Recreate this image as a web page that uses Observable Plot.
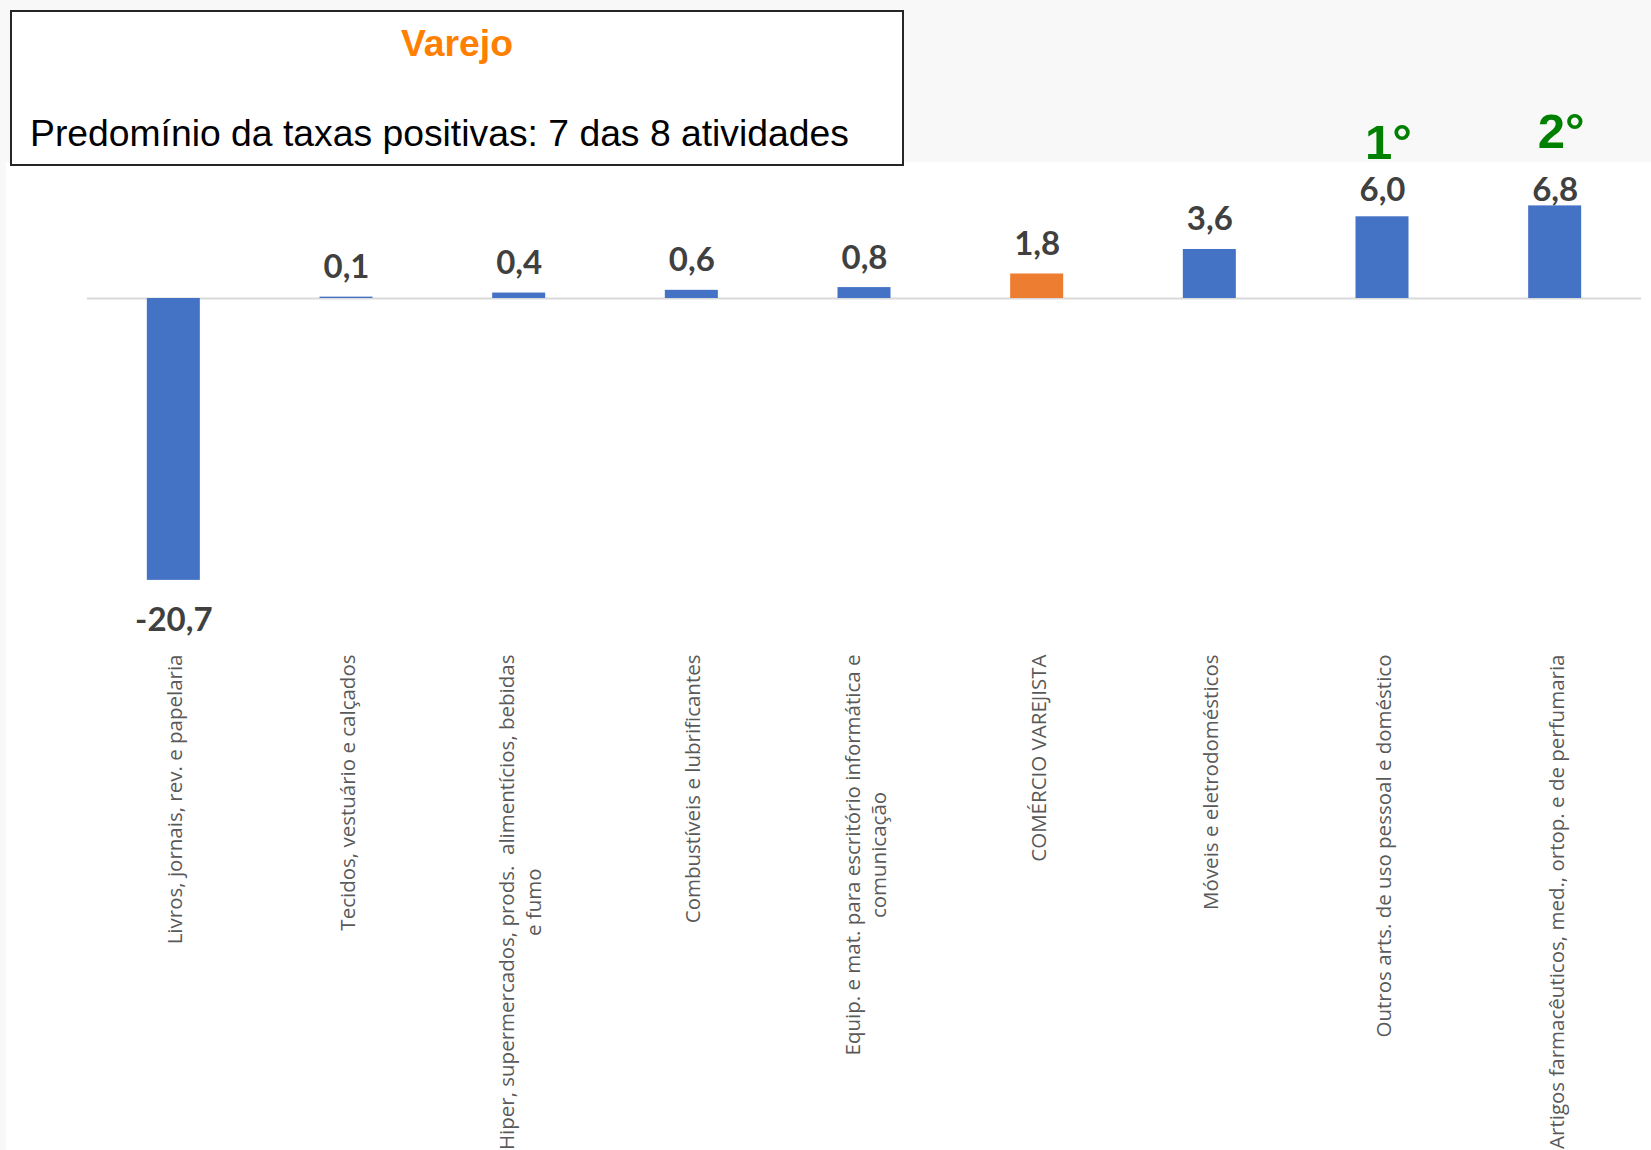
<!DOCTYPE html>
<html>
<head>
<meta charset="utf-8">
<script src="https://cdn.jsdelivr.net/npm/d3@7"></script>
<script src="https://cdn.jsdelivr.net/npm/@observablehq/plot@0.6"></script>
<style>
  html, body { margin: 0; padding: 0; }
  body { width: 1651px; height: 1150px; background: #f8f8f8; position: relative; overflow: hidden; }
  #white { position: absolute; left: 6px; top: 162px; right: 0; bottom: 0; background: #ffffff; }
  #chart { position: absolute; left: 0; top: 0; }
  #box { position: absolute; left: 10px; top: 10px; width: 894px; height: 156px; box-sizing: border-box;
         border: 2px solid #262626; background: #ffffff; }
  .t { position: absolute; font-family: "Liberation Sans", Arial, sans-serif; font-size: 37.3px; line-height: 37px; white-space: pre; }
  #title { left: 10px; width: 894px; top: 25px; text-align: center; font-weight: bold; color: #ff8000; }
  #sub { left: 30px; top: 115px; color: #000000; }
</style>
</head>
<body>
<div id="white"></div>
<div id="chart"></div>
<div id="box"></div>
<div class="t" id="title">Varejo</div>
<div class="t" id="sub">Predomínio da taxas positivas: 7 das 8 atividades</div>
<script>
// ---- Data ----
const categories = [
  "Livros, jornais, rev. e papelaria",
  "Tecidos, vestuário e calçados",
  "Hiper, supermercados, prods.  alimentícios, bebidas\ne fumo",
  "Combustíveis e lubrificantes",
  "Equip. e mat. para escritório informática e\ncomunicação",
  "COMÉRCIO VAREJISTA",
  "Móveis e eletrodomésticos",
  "Outros arts. de uso pessoal e doméstico",
  "Artigos farmacêuticos, med., ortop. e de perfumaria"
];
const values = [-20.7, 0.1, 0.4, 0.6, 0.8, 1.8, 3.6, 6.0, 6.8];
const totalCategory = "COMÉRCIO VAREJISTA";
const rankCategories = ["Outros arts. de uso pessoal e doméstico", "Artigos farmacêuticos, med., ortop. e de perfumaria"];
const rankLabels = ["1°", "2°"];

const data = categories.map((c, i) => ({cat: c, value: values[i]}));
const rankData = rankCategories.map((c, i) => ({cat: c, value: values[categories.indexOf(c)], label: rankLabels[i]}));
const fmt = v => v.toFixed(1).replace(".", ",");
const labelCeil = 5.73; // labels cannot rise above the plot area top

const BLUE = "#4472c4", ORANGE = "#ed7d31";
const VALUE_FONT = "Lato, 'Open Sans', sans-serif";

const chart = Plot.plot({
  width: 1651,
  height: 1150,
  marginLeft: 87,
  marginRight: 10,
  marginTop: 100,
  marginBottom: 500,
  style: {background: "transparent", overflow: "visible"},
  x: {domain: categories, paddingInner: 0.693, paddingOuter: 0.3465, round: false, axis: null},
  y: {domain: [-25.85, 14.54], axis: null},
  marks: [
    Plot.ruleY([0], {stroke: "#d9d9d9", strokeWidth: 2}),
    Plot.barY(data, {x: "cat", y: "value", fill: d => d.cat === totalCategory ? ORANGE : BLUE}),
    Plot.text(data.filter(d => d.value >= 0), {
      x: "cat", y: d => Math.min(d.value, labelCeil), text: d => fmt(d.value),
      dy: -19, lineAnchor: "bottom", fontSize: 33, fontWeight: 700,
      fontFamily: VALUE_FONT, fill: "#404040"
    }),
    Plot.text(data.filter(d => d.value < 0), {
      x: "cat", y: "value", text: d => fmt(d.value),
      dy: 27, lineAnchor: "top", fontSize: 33, fontWeight: 700,
      fontFamily: VALUE_FONT, fill: "#404040"
    }),
    Plot.text(rankData, {
      x: "cat", y: "value", text: "label", dy: -58, dx: 6, lineAnchor: "bottom",
      fontSize: 49, fontWeight: 700, fontFamily: "'Liberation Sans', Arial, sans-serif", fill: "#008000"
    }),
    Plot.text(data, {
      x: "cat", frameAnchor: "bottom", text: "cat", rotate: -90, textAnchor: "end",
      lineAnchor: "middle", lineHeight: 1.3, dy: 4, fontSize: 20.5,
      fontFamily: "'Open Sans', sans-serif", fill: "#595959"
    })
  ]
});
document.getElementById("chart").appendChild(chart);

// center the second line of two-line category labels within the first line's span
chart.querySelectorAll("text").forEach(t => {
  const spans = t.querySelectorAll("tspan");
  if (spans.length === 2) {
    const L1 = spans[0].getComputedTextLength();
    const L2 = spans[1].getComputedTextLength();
    spans[1].setAttribute("x", -(L1 - L2) / 2);
  }
});
</script>
</body>
</html>
